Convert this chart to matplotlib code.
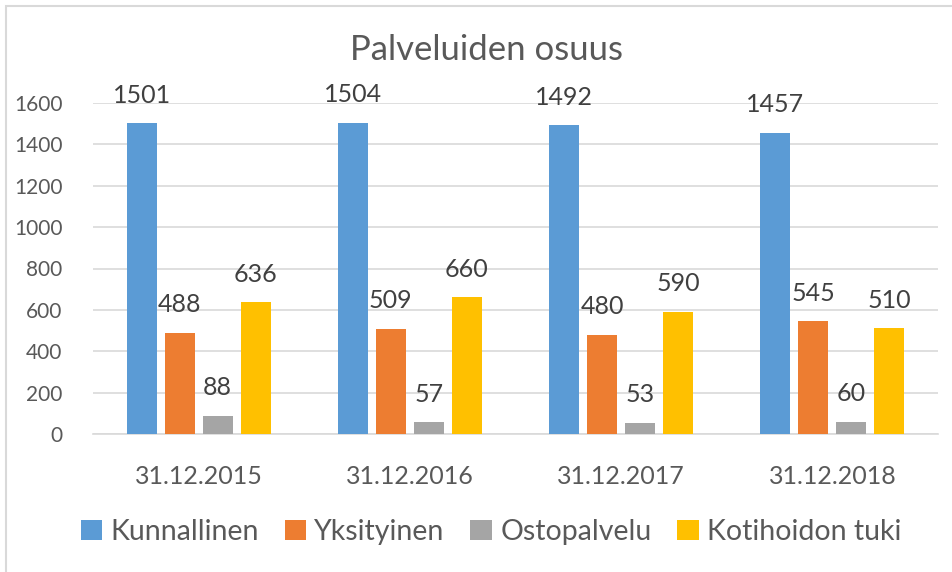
import matplotlib
matplotlib.use("Agg")
import matplotlib.pyplot as plt
from matplotlib.patches import Rectangle
import numpy as np

categories = ["31.12.2015", "31.12.2016", "31.12.2017", "31.12.2018"]
series_names = ["Kunnallinen", "Yksityinen", "Ostopalvelu", "Kotihoidon tuki"]
kunnallinen = [1501, 1504, 1492, 1457]
yksityinen = [488, 509, 480, 545]
ostopalvelu = [88, 57, 53, 60]
kotihoidon_tuki = [636, 660, 590, 510]
colors = ["#5B9BD5", "#ED7D31", "#A5A5A5", "#FFC000"]
yticks = [0, 200, 400, 600, 800, 1000, 1200, 1400, 1600]

plt.rcParams['font.family'] = ['Lato', 'DejaVu Sans']
txt = "#595959"

fig = plt.figure(figsize=(9.52, 5.72), dpi=100)
ax = fig.add_axes([93/952, 1-434/572, (938-93)/952, (434-103)/572])

x = np.arange(len(categories))
width = 0.142
step = 0.18
all_series = [kunnallinen, yksityinen, ostopalvelu, kotihoidon_tuki]
for i, (vals, name, c) in enumerate(zip(all_series, series_names, colors)):
    pos = x + (i - 1.5) * step
    bars = ax.bar(pos, vals, width=width, color=c, label=name, zorder=3)
    for p, v in zip(pos, vals):
        ax.annotate(str(v), (p, v), xytext=(0, 12), textcoords="offset points",
                    ha="center", va="bottom", fontsize=18, color="#404040",
                    annotation_clip=False)

ax.set_xlim(-0.5, 3.5)
ax.set_ylim(0, 1600)
ax.set_yticks(yticks)
ax.set_yticklabels([str(t) for t in yticks], fontsize=15, color=txt)
ax.set_xticks(x)
ax.set_xticklabels(categories, fontsize=18, color=txt)
ax.tick_params(axis='both', length=0)
ax.tick_params(axis='y', pad=22)
ax.tick_params(axis='x', pad=22)
ax.grid(axis='y', color="#D9D9D9", linewidth=1.2, zorder=0)
for s in ["top", "right", "left"]:
    ax.spines[s].set_visible(False)
ax.spines["bottom"].set_color("#D9D9D9")
ax.spines["bottom"].set_linewidth(1.2)

fig.text(487/952, 1-50/572, "Palveluiden osuus", ha="center", va="center",
         fontsize=25, color=txt)

leg = fig.legend(loc="center", bbox_to_anchor=(491/952, 1-532/572), ncol=4,
                 frameon=False, fontsize=20.5, handlelength=0.75, handleheight=0.75,
                 handletextpad=0.3, columnspacing=0.9, labelcolor=txt)

fig.patches.append(Rectangle((6/952, -0.5), 2.0, 1.5 - 6/572, transform=fig.transFigure,
                             fill=False, edgecolor="#D9D9D9", linewidth=1.5))

fig.savefig("out.png", dpi=100)
